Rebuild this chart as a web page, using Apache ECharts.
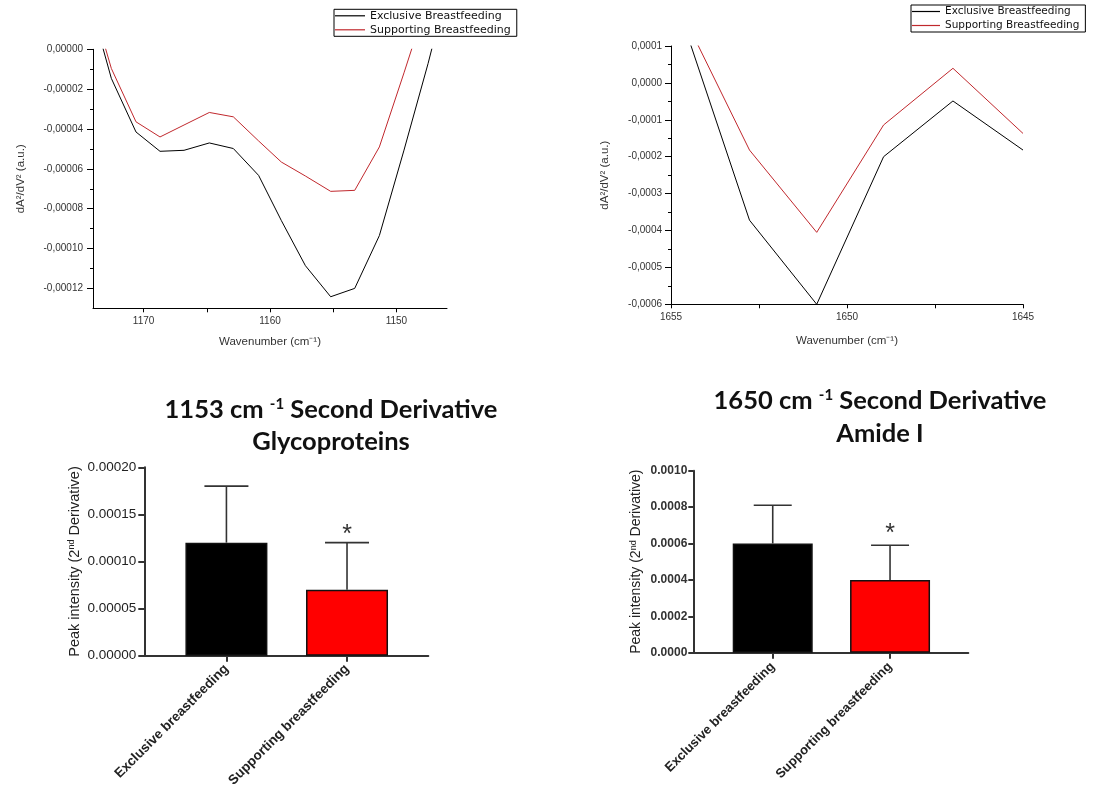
<!DOCTYPE html>
<html><head><meta charset="utf-8">
<script src="https://cdn.jsdelivr.net/npm/echarts@6/dist/echarts.min.js"></script>
<style>html,body{margin:0;padding:0;background:#fff}#c{width:1094px;height:796px}</style>
</head><body><div id="c"></div>
<script>
// ---------- DATA ----------
// Top-left: 1153 region second-derivative spectra
const tlWave        = [1174.5, 1172.55, 1170.6, 1168.7, 1166.8, 1164.8, 1162.9, 1160.9, 1159.1, 1157.2, 1155.2, 1153.3, 1151.35, 1149.4, 1147.5, 1145.6];
const tlExclusive   = [0.00003, -0.0000146, -0.0000415, -0.0000512, -0.0000507, -0.000047, -0.0000498, -0.0000633, -0.000086, -0.0001086, -0.0001242, -0.00012, -0.0000935, -0.0000506, -0.0000072, 0.00004];
const tlSupporting  = [0.000033, -0.0000096, -0.0000364, -0.000044, -0.000038, -0.0000317, -0.0000339, -0.000046, -0.0000566, -0.0000636, -0.0000713, -0.0000708, -0.000049, -0.0000118, 0.0000255, 0.00006];
const tlYMajor      = [0, -0.00002, -0.00004, -0.00006, -0.00008, -0.0001, -0.00012];
const tlYMinor      = [-0.00001, -0.00003, -0.00005, -0.00007, -0.00009, -0.00011];
const tlXLabels     = [1150, 1160, 1170];
const tlXTicks      = [1150, 1155, 1160, 1165, 1170];

// Top-right: 1650 region second-derivative spectra
const trWave        = [1654.7, 1652.77, 1650.86, 1648.96, 1646.99, 1645.0];
const trExclusive   = [0.000177, -0.000372, -0.0006, -0.0002, -0.000049, -0.000182];
const trSupporting  = [0.000193, -0.000182, -0.000405, -0.000114, 0.0000396, -0.000137];
const trXLabels     = [1645, 1650, 1655];

const seriesNames   = ['Exclusive Breastfeeding', 'Supporting Breastfeeding'];

// Bottom: bar charts
const barCategories = ['Exclusive breastfeeding', 'Supporting breastfeeding'];
const glycoMeans    = [0.00012, 0.00007];
const glycoSD       = [0.00006, 0.00005];
const amideMeans    = [0.0006, 0.0004];
const amideSD       = [0.00021, 0.00019];
const significance  = ['', '*'];

// ---------- STYLE ----------
const lineColors = ['#000000', '#c0282d'];
const barColors  = ['#000000', '#ff0000'];
const sans = 'Liberation Sans, Arial, sans-serif';

function pairs(xs, ys){ return xs.map((x,i)=>[x, ys[i]]); }
function comma(d){ return function(v){ if (Math.abs(v) < 1e-12) v = 0; return v.toFixed(d).replace('.', ','); }; }

function errRender(capW, starGap){
  return function(params, api){
    const i = params.dataIndex;
    const x = api.value(0), v = api.value(1), e = api.value(2);
    const p0 = api.coord([x, v]), p1 = api.coord([x, v + e]);
    const st = {stroke:'#333', lineWidth:1.6};
    const ch = [
      {type:'line', shape:{x1:p0[0], y1:p0[1], x2:p1[0], y2:p1[1]}, style:st},
      {type:'line', shape:{x1:p1[0]-capW/2, y1:p1[1], x2:p1[0]+capW/2, y2:p1[1]}, style:st}
    ];
    if (significance[i]) {
      ch.push({type:'text', style:{text:significance[i], x:p1[0], y:p1[1]-starGap, align:'center', verticalAlign:'middle',
        font:'25px ' + sans, fill:'#333'}});
    }
    return {type:'group', children:ch};
  };
}

const topAxisText = {color:'#333', fontFamily:sans, fontSize:10};
const axisBlack = {onZero:false, lineStyle:{color:'#000', width:1}};
const legendBase = {orient:'vertical', icon:'rect', itemHeight:1.2, padding:[1,6,1,1], borderColor:'#000', borderWidth:1,
  borderRadius:0, selectedMode:false};

const option = {
  animation:false,
  backgroundColor:'#fff',
  grid:[
    {left:93, top:49.3, width:354, height:259, outerBoundsMode:'none'},
    {left:671, top:46, width:352, height:258.3, outerBoundsMode:'none'},
    {left:144.3, top:467.3, width:284, height:188.4, outerBoundsMode:'none'},
    {left:693.3, top:470.7, width:275, height:182, outerBoundsMode:'none'}
  ],
  legend:[
    Object.assign({data:seriesNames, left:334, top:9.3, itemWidth:30, itemGap:3,
      textStyle:{fontFamily:'DejaVu Sans, sans-serif', fontSize:11, color:'#111'}}, legendBase),
    Object.assign({data:seriesNames, left:911, top:5, itemWidth:28, itemGap:3,
      textStyle:{fontFamily:'DejaVu Sans, sans-serif', fontSize:10.5, color:'#111'}}, legendBase)
  ],
  xAxis:[
    {gridIndex:0, type:'value', min:1146, max:1174, inverse:true, axisLine:axisBlack,
     axisTick:{customValues:tlXTicks, length:4, lineStyle:{color:'#000'}},
     axisLabel:{customValues:tlXLabels, formatter:v=>String(v), margin:8, ...topAxisText}, splitLine:{show:false},
     name:'Wavenumber (cm⁻¹)', nameLocation:'middle', nameGap:28,
     nameTextStyle:{fontFamily:sans, fontSize:11.5, color:'#333'}},
    {gridIndex:1, type:'value', min:1645, max:1655, interval:2.5, inverse:true, axisLine:axisBlack,
     axisTick:{length:4, lineStyle:{color:'#000'}},
     axisLabel:{customValues:trXLabels, formatter:v=>String(v), margin:8, ...topAxisText}, splitLine:{show:false},
     name:'Wavenumber (cm⁻¹)', nameLocation:'middle', nameGap:31,
     nameTextStyle:{fontFamily:sans, fontSize:11.5, color:'#333'}},
    {gridIndex:2, type:'value', min:-0.681, max:1.674,
     axisLine:{onZero:false, lineStyle:{color:'#333', width:2}},
     axisTick:{customValues:[0,1], length:6, lineStyle:{color:'#333', width:2}},
     axisLabel:{customValues:[0,1], formatter:v=>barCategories[Math.round(v)], rotate:45, margin:11,
       fontFamily:sans, fontWeight:'bold', fontSize:13.5, color:'#222'}, splitLine:{show:false}},
    {gridIndex:3, type:'value', min:-0.677, max:1.667,
     axisLine:{onZero:false, lineStyle:{color:'#333', width:2}},
     axisTick:{customValues:[0,1], length:6, lineStyle:{color:'#333', width:2}},
     axisLabel:{customValues:[0,1], formatter:v=>barCategories[Math.round(v)], rotate:45, margin:12,
       fontFamily:sans, fontWeight:'bold', fontSize:13, color:'#222'}, splitLine:{show:false}}
  ],
  yAxis:[
    {gridIndex:0, type:'value', position:'left', min:-0.00013, max:0, axisLine:{show:true, ...axisBlack},
     axisTick:{show:true, customValues:tlYMajor, length:6, lineStyle:{color:'#000'}},
     axisLabel:{customValues:tlYMajor, formatter:comma(5), margin:10, ...topAxisText}, splitLine:{show:false},
     name:'dA²/dV² (a.u.)', nameLocation:'middle', nameGap:66,
     nameTextStyle:{fontFamily:sans, fontSize:11.5, color:'#333'}},
    {gridIndex:0, type:'value', position:'left', offset:0, min:-0.00013, max:0, axisLine:{show:false, onZero:false},
     axisTick:{show:true, customValues:tlYMinor, length:3, lineStyle:{color:'#000'}},
     axisLabel:{show:false}, splitLine:{show:false}},
    {gridIndex:1, type:'value', position:'left', min:-0.0006, max:0.0001, interval:0.0001, axisLine:{show:true, ...axisBlack},
     axisTick:{show:true, length:6, lineStyle:{color:'#000'}},
     minorTick:{show:true, splitNumber:2, length:3, lineStyle:{color:'#000'}},
     axisLabel:{formatter:comma(4), margin:9, ...topAxisText}, splitLine:{show:false}, minorSplitLine:{show:false},
     name:'dA²/dV² (a.u.)', nameLocation:'middle', nameGap:60,
     nameTextStyle:{fontFamily:sans, fontSize:11.5, color:'#333'}},
    {gridIndex:2, type:'value', position:'left', min:0, max:0.0002, interval:0.00005,
     axisLine:{show:true, onZero:false, lineStyle:{color:'#333', width:2}},
     axisTick:{show:true, length:6, lineStyle:{color:'#333', width:2}},
     axisLabel:{formatter:v=>v.toFixed(5), margin:8, fontFamily:sans, fontSize:13.5, color:'#222'}, splitLine:{show:false},
     name:'{n|Peak intensity (2}{s|nd}{n| Derivative)}', nameLocation:'middle', nameGap:62,
     nameTextStyle:{rich:{n:{fontFamily:sans, fontSize:14.5, color:'#222'}, s:{fontFamily:sans, fontSize:9, color:'#222', verticalAlign:'top'}}}},
    {gridIndex:3, type:'value', position:'left', min:0, max:0.001, interval:0.0002,
     axisLine:{show:true, onZero:false, lineStyle:{color:'#333', width:2}},
     axisTick:{show:true, length:5, lineStyle:{color:'#333', width:2}},
     axisLabel:{formatter:v=>v.toFixed(4), margin:6, fontFamily:sans, fontWeight:'bold', fontSize:12, color:'#333'}, splitLine:{show:false},
     name:'{n|Peak intensity (2}{s|nd}{n| Derivative)}', nameLocation:'middle', nameGap:50,
     nameTextStyle:{rich:{n:{fontFamily:sans, fontSize:14, color:'#222'}, s:{fontFamily:sans, fontSize:9, color:'#222', verticalAlign:'top'}}}}
  ],
  series:[
    {type:'line', name:seriesNames[0], xAxisIndex:0, yAxisIndex:0, data:pairs(tlWave, tlExclusive), symbol:'none',
     color:lineColors[0], lineStyle:{width:1, color:lineColors[0]}},
    {type:'line', name:seriesNames[1], xAxisIndex:0, yAxisIndex:0, data:pairs(tlWave, tlSupporting), symbol:'none',
     color:lineColors[1], lineStyle:{width:1, color:lineColors[1]}},
    {type:'line', name:seriesNames[0], xAxisIndex:1, yAxisIndex:2, data:pairs(trWave, trExclusive), symbol:'none',
     color:lineColors[0], lineStyle:{width:1, color:lineColors[0]}},
    {type:'line', name:seriesNames[1], xAxisIndex:1, yAxisIndex:2, data:pairs(trWave, trSupporting), symbol:'none',
     color:lineColors[1], lineStyle:{width:1, color:lineColors[1]}},
    {type:'bar', name:'glyco', xAxisIndex:2, yAxisIndex:3, barWidth:82,
     data:glycoMeans.map((v,i)=>({value:[i, v], itemStyle:{color:barColors[i]}})),
     itemStyle:{borderColor:'#111', borderWidth:1.5}, emphasis:{disabled:true}},
    {type:'custom', name:'glycoErr', xAxisIndex:2, yAxisIndex:3, z:5,
     data:glycoMeans.map((v,i)=>[i, v, glycoSD[i]]), encode:{x:0, y:1},
     renderItem:errRender(44, 8)},
    {type:'bar', name:'amide', xAxisIndex:3, yAxisIndex:4, barWidth:80,
     data:amideMeans.map((v,i)=>({value:[i, v], itemStyle:{color:barColors[i]}})),
     itemStyle:{borderColor:'#111', borderWidth:1.5}, emphasis:{disabled:true}},
    {type:'custom', name:'amideErr', xAxisIndex:3, yAxisIndex:4, z:5,
     data:amideMeans.map((v,i)=>[i, v, amideSD[i]]), encode:{x:0, y:1},
     renderItem:errRender(38, 11)}
  ],
  graphic:[
    {type:'text', x:331, y:409.7, style:{text:'{a|1153 cm }{s|-1}{a| Second Derivative}', align:'center', verticalAlign:'middle',
      rich:{a:{fontFamily:'Lato, sans-serif', fontWeight:'bold', fontSize:25.5, fill:'#111'}, s:{fontFamily:'Lato, sans-serif', fontWeight:'bold', fontSize:15, fill:'#111', verticalAlign:'top'}}}},
    {type:'text', x:331, y:442, style:{text:'Glycoproteins', align:'center', verticalAlign:'middle',
      font:'bold 25.5px Lato, sans-serif', fill:'#111'}},
    {type:'text', x:880, y:400.3, style:{text:'{a|1650 cm }{s|-1}{a| Second Derivative}', align:'center', verticalAlign:'middle',
      rich:{a:{fontFamily:'Lato, sans-serif', fontWeight:'bold', fontSize:25.5, fill:'#111'}, s:{fontFamily:'Lato, sans-serif', fontWeight:'bold', fontSize:15, fill:'#111', verticalAlign:'top'}}}},
    {type:'text', x:880, y:433.7, style:{text:'Amide I', align:'center', verticalAlign:'middle',
      font:'bold 25.5px Lato, sans-serif', fill:'#111'}}
  ]
};

const chart = echarts.init(document.getElementById('c'));
chart.setOption(option);
</script></body></html>
